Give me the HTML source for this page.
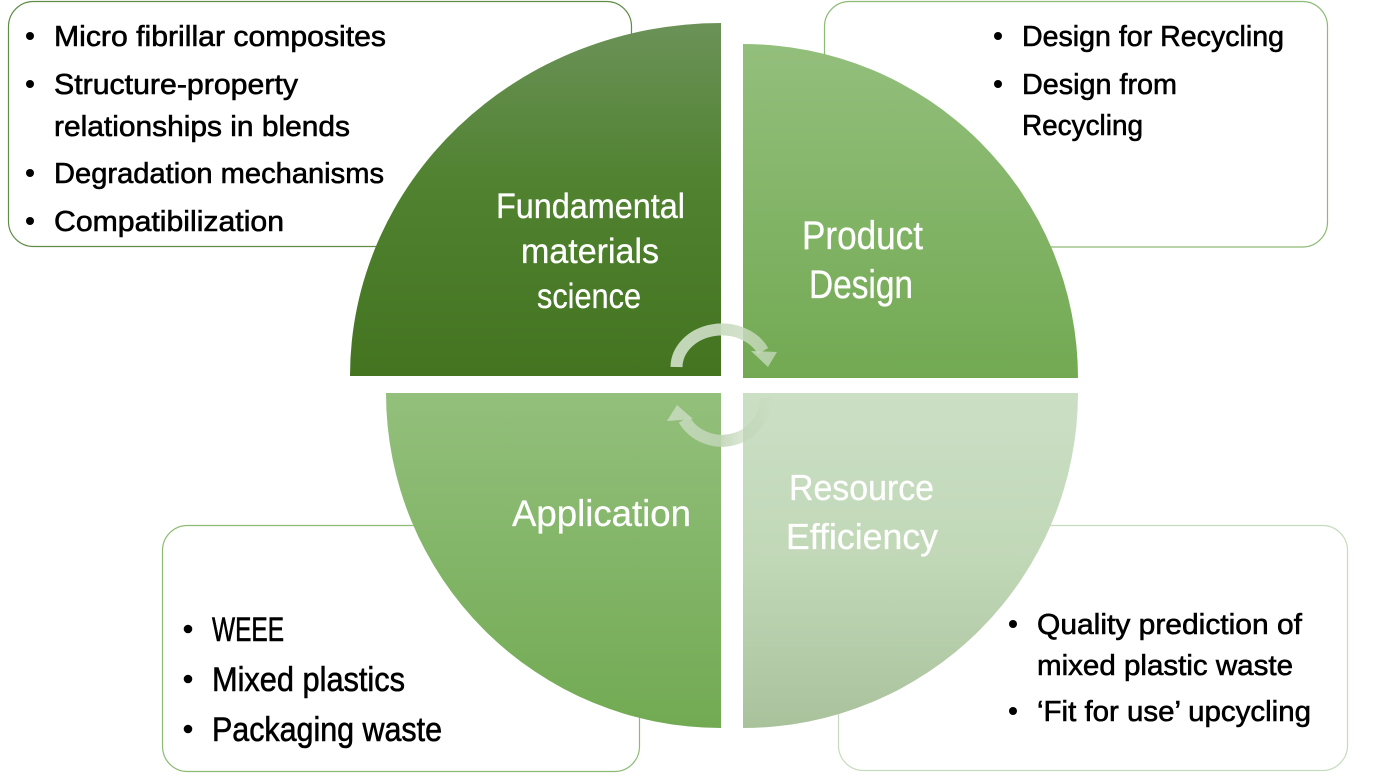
<!DOCTYPE html>
<html>
<head>
<meta charset="utf-8">
<style>
html,body{margin:0;padding:0;background:#ffffff;}
svg{display:block;}
text{font-family:"Liberation Sans Narrow","Liberation Sans",sans-serif;}
.b{fill:#000;font-size:29px;stroke:#000;stroke-width:0.6px;}
.b3{fill:#000;font-size:34px;stroke:#000;stroke-width:0.6px;}
.w{fill:#fff;stroke:#fff;stroke-width:0.3px;}
</style>
</head>
<body>
<svg width="1390" height="775" viewBox="0 0 1390 775" xmlns="http://www.w3.org/2000/svg">
<defs>
  <linearGradient id="g1" x1="0" y1="23" x2="0" y2="376" gradientUnits="userSpaceOnUse">
    <stop offset="0" stop-color="#6b9258"/>
    <stop offset="0.45" stop-color="#508230"/>
    <stop offset="1" stop-color="#447420"/>
  </linearGradient>
  <linearGradient id="g2" x1="0" y1="44" x2="0" y2="378" gradientUnits="userSpaceOnUse">
    <stop offset="0" stop-color="#93bf7c"/>
    <stop offset="1" stop-color="#72a952"/>
  </linearGradient>
  <linearGradient id="g3" x1="0" y1="393" x2="0" y2="728" gradientUnits="userSpaceOnUse">
    <stop offset="0" stop-color="#93c07c"/>
    <stop offset="1" stop-color="#72aa53"/>
  </linearGradient>
  <linearGradient id="g4" x1="0" y1="393" x2="0" y2="728" gradientUnits="userSpaceOnUse">
    <stop offset="0" stop-color="#cbdfc5"/>
    <stop offset="0.5" stop-color="#c1d8b7"/>
    <stop offset="1" stop-color="#a9c29c"/>
  </linearGradient>
  <linearGradient id="ga1" x1="670" y1="0" x2="778" y2="0" gradientUnits="userSpaceOnUse">
    <stop offset="0" stop-color="#cadcc1" stop-opacity="0.95"/>
    <stop offset="0.5" stop-color="#cadcc1" stop-opacity="0.92"/>
    <stop offset="1" stop-color="#cadcc1" stop-opacity="0.7"/>
  </linearGradient>
  <linearGradient id="ga2" x1="668" y1="0" x2="772" y2="0" gradientUnits="userSpaceOnUse">
    <stop offset="0" stop-color="#c4d9ba" stop-opacity="0.95"/>
    <stop offset="0.5" stop-color="#bed4b3" stop-opacity="0.9"/>
    <stop offset="1" stop-color="#bed4b3" stop-opacity="0.1"/>
  </linearGradient>
</defs>

<!-- boxes -->
<rect x="8.5" y="1.5" width="623" height="245" rx="25" ry="25" fill="#fff" stroke="#5f8d45" stroke-width="1.2"/>
<rect x="824.5" y="1.5" width="503" height="245.5" rx="25" ry="25" fill="#fff" stroke="#8dbb74" stroke-width="1.2"/>
<rect x="162.5" y="525.5" width="477" height="246" rx="25" ry="25" fill="#fff" stroke="#8dbb74" stroke-width="1.2"/>
<rect x="838.5" y="525.5" width="509" height="245" rx="25" ry="25" fill="#fff" stroke="#c6dbbd" stroke-width="1.2"/>

<!-- quadrants -->
<path d="M721,376 L350,376 A371,353 0 0 1 721,23 Z" fill="url(#g1)"/>
<path d="M743,378 L743,44 A335,334 0 0 1 1078,378 Z" fill="url(#g2)"/>
<path d="M721,393 L721,728 A335,335 0 0 1 386,393 Z" fill="url(#g3)"/>
<path d="M743,393 L1078,393 A335,335 0 0 1 743,728 Z" fill="url(#g4)"/>

<!-- circular arrows -->
<path d="M676.5,367 A45.5,38 0 0 1 763,351" fill="none" stroke="url(#ga1)" stroke-width="12"/>
<polygon points="751,351 777,352 768,367" fill="url(#ga1)"/>
<path d="M766,398 A44,43 0 0 1 684,419.5" fill="none" stroke="url(#ga2)" stroke-width="12"/>
<polygon points="667,421 693,419 677,405" fill="url(#ga2)"/>

<!-- quadrant labels -->
<text class="w" x="496" y="218" font-size="35" textLength="189" lengthAdjust="spacingAndGlyphs">Fundamental</text>
<text class="w" x="521" y="263" font-size="35" textLength="138" lengthAdjust="spacingAndGlyphs">materials</text>
<text class="w" x="537" y="308" font-size="35" textLength="104" lengthAdjust="spacingAndGlyphs">science</text>

<text class="w" x="802" y="249" font-size="40" textLength="121" lengthAdjust="spacingAndGlyphs">Product</text>
<text class="w" x="809" y="298" font-size="40" textLength="104" lengthAdjust="spacingAndGlyphs">Design</text>

<text class="w" x="512" y="526" font-size="37" textLength="179" lengthAdjust="spacingAndGlyphs">Application</text>

<text class="w" x="789" y="500" font-size="36" textLength="145" lengthAdjust="spacingAndGlyphs">Resource</text>
<text class="w" x="786" y="549" font-size="36" textLength="152" lengthAdjust="spacingAndGlyphs">Efficiency</text>

<!-- box 1 -->
<circle cx="30" cy="36" r="4" fill="#000"/>
<circle cx="30" cy="84" r="4" fill="#000"/>
<circle cx="30" cy="173" r="4" fill="#000"/>
<circle cx="30" cy="221" r="4" fill="#000"/>
<text class="b" x="54" y="46" textLength="332" lengthAdjust="spacingAndGlyphs">Micro fibrillar composites</text>
<text class="b" x="54" y="94" textLength="244" lengthAdjust="spacingAndGlyphs">Structure-property</text>
<text class="b" x="54" y="136" textLength="296" lengthAdjust="spacingAndGlyphs">relationships in blends</text>
<text class="b" x="54" y="183" textLength="330" lengthAdjust="spacingAndGlyphs">Degradation mechanisms</text>
<text class="b" x="54" y="231" textLength="230" lengthAdjust="spacingAndGlyphs">Compatibilization</text>

<!-- box 2 -->
<circle cx="998" cy="36" r="4" fill="#000"/>
<circle cx="998" cy="84" r="4" fill="#000"/>
<text class="b" x="1022" y="46" textLength="262" lengthAdjust="spacingAndGlyphs">Design for Recycling</text>
<text class="b" x="1022" y="94" textLength="155" lengthAdjust="spacingAndGlyphs">Design from</text>
<text class="b" x="1022" y="135" textLength="121" lengthAdjust="spacingAndGlyphs">Recycling</text>

<!-- box 3 -->
<circle cx="188" cy="629" r="4.3" fill="#000"/>
<circle cx="188" cy="679" r="4.3" fill="#000"/>
<circle cx="188" cy="729" r="4.3" fill="#000"/>
<text class="b3" x="212" y="641" textLength="72" lengthAdjust="spacingAndGlyphs">WEEE</text>
<text class="b3" x="212" y="691" textLength="193" lengthAdjust="spacingAndGlyphs">Mixed plastics</text>
<text class="b3" x="212" y="741" textLength="230" lengthAdjust="spacingAndGlyphs">Packaging waste</text>

<!-- box 4 -->
<circle cx="1013" cy="624" r="4" fill="#000"/>
<circle cx="1013" cy="711" r="4" fill="#000"/>
<text class="b" x="1037" y="634" textLength="265" lengthAdjust="spacingAndGlyphs">Quality prediction of</text>
<text class="b" x="1037" y="675" textLength="256" lengthAdjust="spacingAndGlyphs">mixed plastic waste</text>
<text class="b" x="1037" y="721" textLength="274" lengthAdjust="spacingAndGlyphs">‘Fit for use’ upcycling</text>
</svg>
</body>
</html>
